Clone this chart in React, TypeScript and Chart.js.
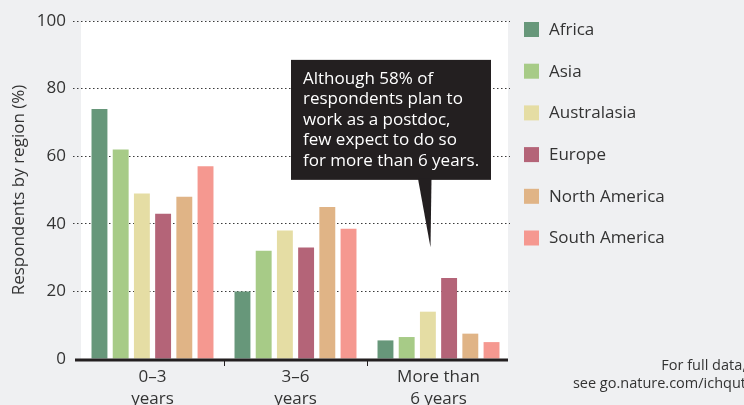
import React, { useEffect, useRef } from 'react';
import { Chart, registerables } from 'chart.js';

Chart.register(...registerables);

// ---------- data ----------
const categories = [['0–3', 'years'], ['3–6', 'years'], ['More than', '6 years']];
const regions = ['Africa', 'Asia', 'Australasia', 'Europe', 'North America', 'South America'];
const africa = [74, 20, 5.5];
const asia = [62, 32, 6.5];
const australasia = [49, 38, 14];
const europe = [43, 33, 24];
const northAmerica = [48, 45, 7.5];
const southAmerica = [57, 38.5, 5];
const regionValues = [africa, asia, australasia, europe, northAmerica, southAmerica];
const regionColors = ['#67977a', '#a7cb87', '#e5dda4', '#b46478', '#e0b486', '#f59890'];
const yMin = 0;
const yMax = 100;
const yStep = 20;
const yTitle = 'Respondents by region (%)';
const calloutLines = [
  'Although 58% of',
  'respondents plan to',
  'work as a postdoc,',
  'few expect to do so',
  'for more than 6 years.',
];
// callout anchored in data terms: box spans these values, pointer tip at this category/value
const calloutCategory = 2;
const calloutTipValue = 33;
const calloutTopValue = 88.5;
const calloutBottomValue = 53;
const footnoteLines = ['For full data,', 'see go.nature.com/ichqut'];

const FONT = "'Open Sans', sans-serif";
const TEXT = '#333333';
const INK = '#231f20';

const decorPlugin = {
  id: 'decor',
  beforeDraw(chart: any) {
    const { ctx, chartArea } = chart;
    ctx.save();
    ctx.fillStyle = '#ffffff';
    ctx.fillRect(chartArea.left, chartArea.top, chartArea.right - chartArea.left - 2, chartArea.bottom - chartArea.top);
    ctx.restore();
  },
  afterDraw(chart: any) {
    const { ctx, chartArea, scales } = chart;
    const xs = scales.x;
    const ys = scales.y;
    ctx.save();
    // axis line
    ctx.strokeStyle = INK;
    ctx.lineWidth = 3;
    ctx.beginPath();
    ctx.moveTo(chartArea.left - 6, chartArea.bottom + 1);
    ctx.lineTo(chartArea.right - 2, chartArea.bottom + 1);
    ctx.stroke();

    // legend
    ctx.font = `17px ${FONT}`;
    ctx.textBaseline = 'middle';
    ctx.textAlign = 'left';
    const lx = chartArea.right + 14;
    const ly = chartArea.top + 1;
    chart.data.datasets.forEach((ds: any, i: number) => {
      const top = ly + i * 41.7;
      ctx.fillStyle = ds.backgroundColor;
      ctx.fillRect(lx, top, 15, 15);
      ctx.fillStyle = TEXT;
      ctx.fillText(ds.label, lx + 25, top + 8);
    });

    // callout
    const cx = xs.getPixelForValue(calloutCategory);
    const boxL = cx - 147.5;
    const boxR = cx + 52.5;
    const boxT = ys.getPixelForValue(calloutTopValue);
    const boxB = ys.getPixelForValue(calloutBottomValue);
    const tipY = ys.getPixelForValue(calloutTipValue);
    ctx.fillStyle = INK;
    ctx.fillRect(boxL, boxT, boxR - boxL, boxB - boxT);
    ctx.beginPath();
    ctx.moveTo(cx - 20.5, boxB - 1);
    ctx.lineTo(cx - 7, boxB - 1);
    ctx.lineTo(cx - 8, tipY);
    ctx.closePath();
    ctx.fill();
    ctx.fillStyle = '#ffffff';
    ctx.textBaseline = 'alphabetic';
    ctx.font = `17px ${FONT}`;
    calloutLines.forEach((line, i) => {
      ctx.fillText(line, boxL + 12, boxT + 24 + i * 20.5);
    });

    // footnote
    ctx.fillStyle = TEXT;
    ctx.font = `14.5px ${FONT}`;
    ctx.textAlign = 'right';
    footnoteLines.forEach((line, i) => {
      ctx.fillText(line, 746, 370 + i * 18);
    });
    ctx.restore();
  },
};

export default function App() {
  const ref = useRef<HTMLCanvasElement>(null);
  useEffect(() => {
    if (!ref.current) return;
    Chart.defaults.font.family = FONT;
    const chart = new Chart(ref.current, {
      type: 'bar',
      data: {
        labels: categories as any,
        datasets: regions.map((r, i) => ({
          label: r,
          data: regionValues[i],
          backgroundColor: regionColors[i],
          borderWidth: 0,
          categoryPercentage: 0.89,
          barPercentage: 0.75,
        })),
      },
      options: {
        responsive: false,
        animation: false,
        layout: { padding: { top: 21, right: 234, bottom: 0, left: 0 } },
        plugins: { legend: { display: false }, tooltip: { enabled: false } },
        scales: {
          x: {
            offset: true,
            border: { display: false },
            grid: {
              offset: true,
              drawOnChartArea: false,
              drawTicks: true,
              tickLength: 7,
              tickWidth: 1,
              color: (c: any) => (c.index === 1 || c.index === 2 ? INK : 'rgba(0,0,0,0)'),
            },
            ticks: {
              color: TEXT,
              padding: 1,
              maxRotation: 0,
              font: { size: 17, lineHeight: 1.25 },
            },
            afterFit: (s: any) => {
              s.height = 46;
            },
          },
          y: {
            min: yMin,
            max: yMax,
            border: { display: false, dash: [1.5, 2.5] },
            grid: {
              color: (c: any) => (c.tick && c.tick.value === 0 ? 'rgba(0,0,0,0)' : '#3a3a3a'),
              lineWidth: 1,
              tickLength: 8,
              tickBorderDash: [1.5, 2.5],
            },
            ticks: {
              stepSize: yStep,
              color: TEXT,
              padding: 7,
              font: { size: 17 },
            },
            title: {
              display: true,
              text: yTitle,
              color: TEXT,
              font: { size: 17 },
              padding: { top: 9, bottom: 0 },
            },
            afterFit: (s: any) => {
              s.width = 81;
            },
          },
        },
      },
      plugins: [decorPlugin],
    });
    return () => chart.destroy();
  }, []);

  return (
    <div
      style={{
        position: 'fixed',
        left: 0,
        top: 0,
        width: 744,
        height: 405,
        background: '#eff0f2',
        overflow: 'hidden',
      }}
    >
      <canvas ref={ref} width={744} height={405} style={{ display: 'block' }} />
    </div>
  );
}
